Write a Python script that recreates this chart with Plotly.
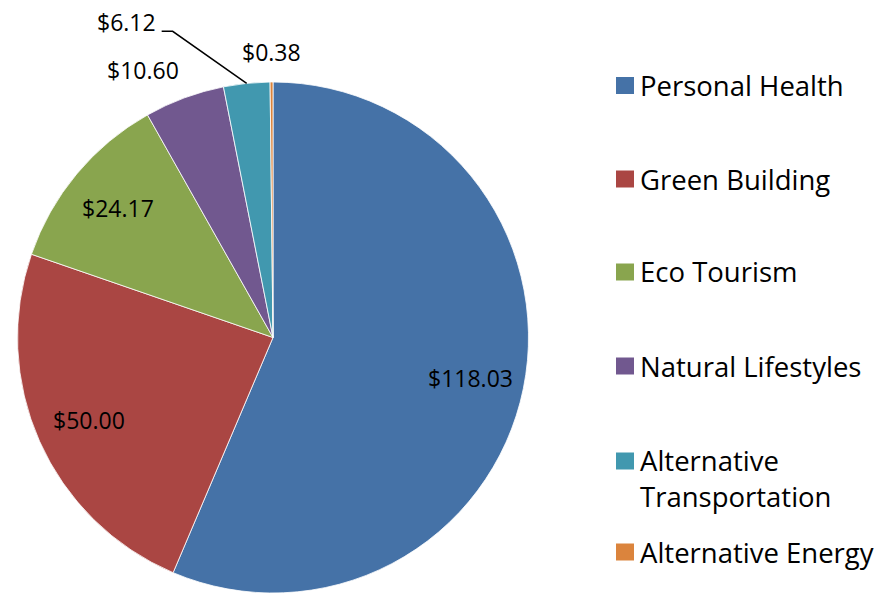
import math
import plotly.graph_objects as go

categories = ["Personal Health", "Green Building", "Eco Tourism", "Natural Lifestyles",
              "Alternative Transportation", "Alternative Energy"]
legend_text = ["Personal Health", "Green Building", "Eco Tourism", "Natural Lifestyles",
               "Alternative<br>Transportation", "Alternative Energy"]
values = [118.03, 50.00, 24.17, 10.60, 6.12, 0.38]
colors = ["#4572A7", "#AA4643", "#89A54E", "#71588F", "#4198AF", "#DB843D"]

W, H = 882, 593
FONT = "Open Sans"
LBL = 23
LEG = 27.5
CX, CY, R = 273, 337.5, 255.5

def px(x, y):
    return x / W, 1 - y / H

fig = go.Figure(go.Pie(
    labels=categories, values=values, sort=False, direction="clockwise", rotation=0,
    marker=dict(colors=colors, line=dict(color="white", width=0.8)),
    textinfo="none", hoverinfo="label+value", showlegend=False,
    domain=dict(x=[(CX - R) / W, (CX + R) / W], y=[0, 1 - (CY - R) / H]),
))

total = sum(values)
cum = 0
mids = []
for v in values:
    mids.append((cum + v / 2) / total * 360)
    cum += v

def point(ang, r):
    a = math.radians(ang)
    return CX + r * math.sin(a), CY - r * math.cos(a)

anns = []
shapes = []
labels = ["$" + f"{v:.2f}" for v in values]
# inside labels
for i in range(3):
    x, y = point(mids[i], 0.79 * R)
    xp, yp = px(x, y)
    anns.append(dict(x=xp, y=yp, xref="paper", yref="paper", text=labels[i], showarrow=False,
                     xanchor="center", yanchor="middle",
                     font=dict(family=FONT, size=LBL, color="black")))
# purple: outside, anchored right-bottom
x, y = point(mids[3], R + 10)
xp, yp = px(x, y)
anns.append(dict(x=xp, y=yp, xref="paper", yref="paper", text=labels[3], showarrow=False,
                 xanchor="right", yanchor="bottom", font=dict(family=FONT, size=LBL, color="black")))
# orange: outside above
x, y = point(mids[5], R + 12)
xp, yp = px(x, y)
anns.append(dict(x=xp, y=yp, xref="paper", yref="paper", text=labels[5], showarrow=False,
                 xanchor="center", yanchor="bottom", font=dict(family=FONT, size=LBL, color="black")))
# teal: leader line
ex, ey = point(mids[4], R)
bx, by = ex - 74, ey - 52
lx = bx - 11
shapes.append(dict(type="path", xref="paper", yref="paper",
                   path="M {} {} L {} {} L {} {}".format(*px(ex, ey), *px(bx, by), *px(lx, by)),
                   line=dict(color="black", width=1.5)))
xp, yp = px(lx - 4, by - 9)
anns.append(dict(x=xp, y=yp, xref="paper", yref="paper", text=labels[4], showarrow=False,
                 xanchor="right", yanchor="middle", font=dict(family=FONT, size=LBL, color="black")))

# manual legend
leg_y = [85.5, 179, 272, 366, 461, 552]
for i, (t, c) in enumerate(zip(legend_text, colors)):
    yc = leg_y[i]
    x0, y0 = px(616, yc - 8.5)
    x1, y1 = px(634, yc + 8.5)
    shapes.append(dict(type="rect", xref="paper", yref="paper", x0=x0, x1=x1, y0=y0, y1=y1,
                       fillcolor=c, line=dict(width=0)))
    if "<br>" in t:
        xp, yp = px(638, yc - 21)
        anns.append(dict(x=xp, y=yp, xref="paper", yref="paper", text=t, showarrow=False,
                         xanchor="left", yanchor="top", align="left",
                         font=dict(family=FONT, size=LEG, color="black")))
    else:
        xp, yp = px(638, yc)
        anns.append(dict(x=xp, y=yp, xref="paper", yref="paper", text=t, showarrow=False,
                         xanchor="left", yanchor="middle",
                         font=dict(family=FONT, size=LEG, color="black")))

fig.update_layout(width=W, height=H, margin=dict(l=0, r=0, t=0, b=0),
                  paper_bgcolor="white", plot_bgcolor="white",
                  annotations=anns, shapes=shapes, showlegend=False)
fig.write_html("out.html")
